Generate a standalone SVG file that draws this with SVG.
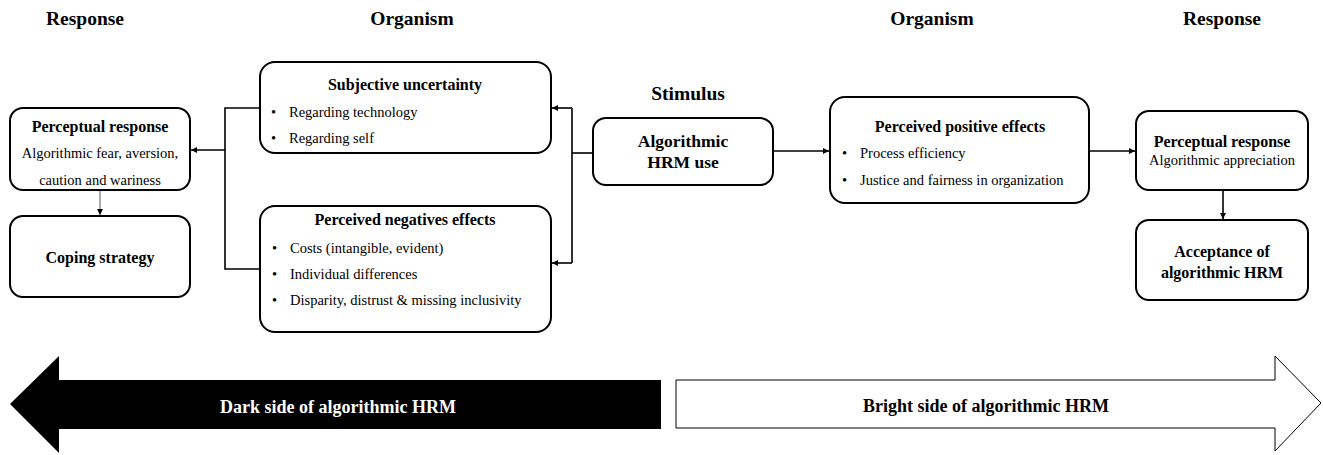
<svg xmlns="http://www.w3.org/2000/svg" width="1323" height="455" viewBox="0 0 1323 455">
  <style>
    text { font-family: "Liberation Serif", "Times New Roman", serif; fill: #000; }
    .hdr { font-size: 19.5px; font-weight: bold; text-anchor: middle; }
    .ttl { font-size: 16px; font-weight: bold; text-anchor: middle; }
    .big { font-size: 17.5px; font-weight: bold; text-anchor: middle; }
    .txt { font-size: 14.5px; }
    .ctr { text-anchor: middle; }
    .box { fill: #fff; stroke: #000; stroke-width: 2; }
    .con { fill: none; stroke: #000; stroke-width: 1.6; }
    .thin { fill: none; stroke: #555; stroke-width: 1; }
  </style>
  <defs>
    <marker id="ah" viewBox="0 0 10 10" refX="10" refY="5" markerWidth="6" markerHeight="6" markerUnits="userSpaceOnUse" orient="auto">
      <path d="M0,0 L10,5 L0,10 z" fill="#000"/>
    </marker>
  </defs>
  <rect width="1323" height="455" fill="#fff"/>

  <!-- column headers -->
  <g id="headers">
    <text class="hdr" x="85" y="25">Response</text>
    <text class="hdr" x="412" y="25">Organism</text>
    <text class="hdr" x="688" y="100">Stimulus</text>
    <text class="hdr" x="932" y="25">Organism</text>
    <text class="hdr" x="1222" y="25">Response</text>
  </g>

  <!-- connectors -->
  <g id="connectors">
    <!-- stimulus to dark-side organism boxes -->
    <path class="con" d="M593,153 H572"/>
    <path class="con" d="M572,108 V263"/>
    <path class="con" d="M572,108 H552" marker-end="url(#ah)"/>
    <path class="con" d="M572,263 H552" marker-end="url(#ah)"/>
    <!-- organism boxes to left perceptual response -->
    <path class="con" d="M260,108 H225 V269 H260"/>
    <path class="con" d="M225,150 H191" marker-end="url(#ah)"/>
    <path class="thin" d="M100,190 V215" marker-end="url(#ah)"/>
    <!-- bright side chain -->
    <path class="con" d="M773,151 H829" marker-end="url(#ah)"/>
    <path class="con" d="M1089,151 H1135" marker-end="url(#ah)"/>
    <path class="con" d="M1223,190 V219" marker-end="url(#ah)"/>
  </g>

  <g id="perceptual-left">
    <rect class="box" x="10" y="108" width="180" height="82" rx="13"/>
    <text class="ttl" x="100" y="132">Perceptual response</text>
    <text class="txt ctr" x="100" y="158">Algorithmic fear, aversion,</text>
    <text class="txt ctr" x="100" y="185">caution and wariness</text>
  </g>

  <g id="coping">
    <rect class="box" x="10" y="216" width="180" height="81" rx="13"/>
    <text class="ttl" x="100" y="263">Coping strategy</text>
  </g>

  <g id="uncertainty">
    <rect class="box" x="260" y="62" width="291" height="91" rx="15"/>
    <text class="ttl" x="405" y="90">Subjective uncertainty</text>
    <text class="txt" x="271" y="117">•</text>
    <text class="txt" x="289" y="117">Regarding technology</text>
    <text class="txt" x="271" y="143">•</text>
    <text class="txt" x="289" y="143">Regarding self</text>
  </g>

  <g id="negatives">
    <rect class="box" x="260" y="206" width="291" height="126" rx="15"/>
    <text class="ttl" x="405" y="225">Perceived negatives effects</text>
    <text class="txt" x="272" y="253">•</text>
    <text class="txt" x="290" y="253">Costs (intangible, evident)</text>
    <text class="txt" x="272" y="279">•</text>
    <text class="txt" x="290" y="279">Individual differences</text>
    <text class="txt" x="272" y="305">•</text>
    <text class="txt" x="290" y="305">Disparity, distrust &amp; missing inclusivity</text>
  </g>

  <g id="stimulus">
    <rect class="box" x="593" y="118" width="180" height="67" rx="13"/>
    <text class="big" x="683" y="147">Algorithmic</text>
    <text class="big" x="683" y="168">HRM use</text>
  </g>

  <g id="positives">
    <rect class="box" x="830" y="97" width="259" height="106" rx="15"/>
    <text class="ttl" x="960" y="132">Perceived positive effects</text>
    <text class="txt" x="842" y="158">•</text>
    <text class="txt" x="860" y="158">Process efficiency</text>
    <text class="txt" x="842" y="185">•</text>
    <text class="txt" x="860" y="185">Justice and fairness in organization</text>
  </g>

  <g id="perceptual-right">
    <rect class="box" x="1136" y="111" width="172" height="79" rx="13"/>
    <text class="ttl" x="1222" y="147">Perceptual response</text>
    <text class="txt ctr" x="1222" y="165">Algorithmic appreciation</text>
  </g>

  <g id="acceptance">
    <rect class="box" x="1136" y="220" width="172" height="80" rx="13"/>
    <text class="ttl" x="1222" y="257">Acceptance of</text>
    <text class="ttl" x="1222" y="278">algorithmic HRM</text>
  </g>

  <!-- dark / bright side band -->
  <g id="dark-side">
    <path d="M10,404 L59,356 L59,380 L661,380 L661,429 L59,429 L59,453 Z" fill="#000"/>
    <text x="338" y="413" font-size="18" font-weight="bold" text-anchor="middle" style="fill:#fff">Dark side of algorithmic HRM</text>
  </g>
  <g id="bright-side">
    <path d="M676,380 L1275,380 L1275,356 L1321,403 L1275,451 L1275,428 L676,428 Z" fill="#fff" stroke="#000" stroke-width="1"/>
    <text x="986" y="412" font-size="18" font-weight="bold" text-anchor="middle">Bright side of algorithmic HRM</text>
  </g>
</svg>
